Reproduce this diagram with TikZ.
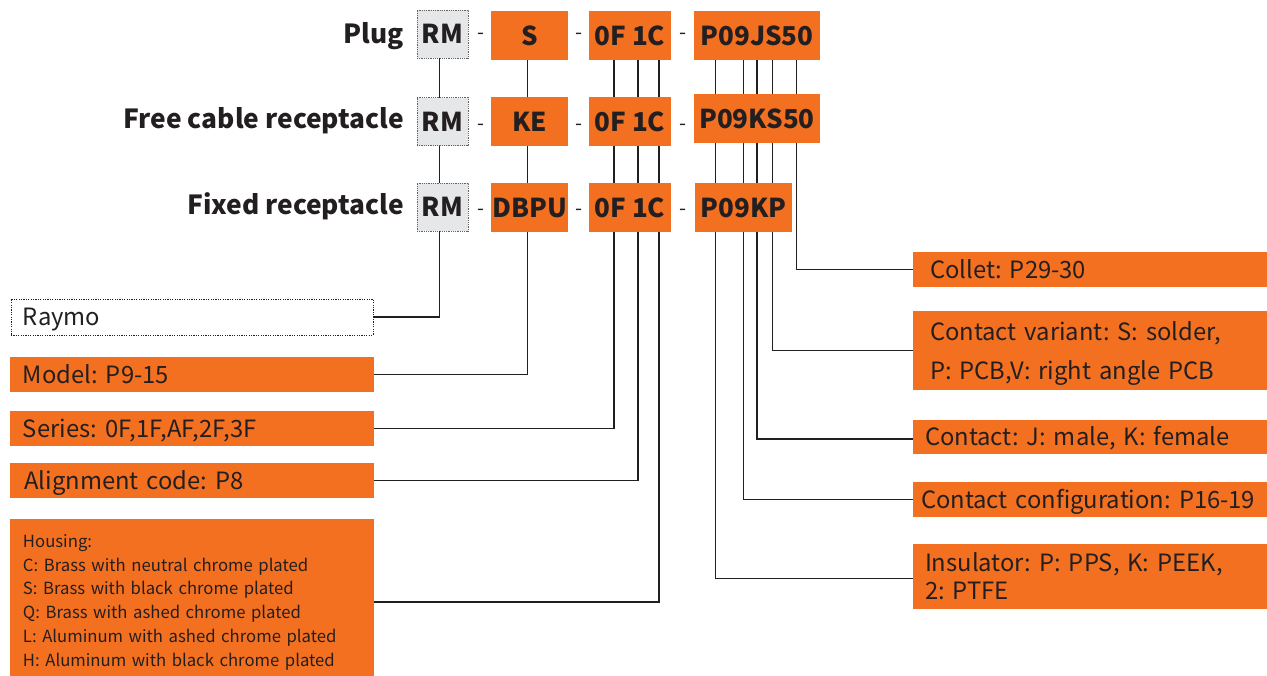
\documentclass[tikz,border=0pt]{standalone}
\usepackage{fontspec}
\setmainfont{Noto Sans CJK SC}
\definecolor{org}{HTML}{F37021}
\definecolor{ink}{HTML}{231F20}
\definecolor{rmgray}{HTML}{E6E7E8}
\frenchspacing
\begin{document}
\begin{tikzpicture}[x=1pt,y=-1pt,
  every node/.style={inner sep=0pt, outer sep=0pt, text=ink},
  code/.style={fill=org, font=\fontsize{26}{30}\selectfont\bfseries, minimum height=49pt},
  rmbox/.style={fill=rmgray, draw=ink!70, densely dotted, line width=0.8pt, font=\fontsize{26}{30}\selectfont\bfseries, minimum width=51pt, minimum height=48pt},
  title/.style={anchor=base east, font=\fontsize{26.3}{30}\selectfont\bfseries},
  sepr/.style={anchor=base, font=\fontsize{20}{24}\selectfont},
  lbl/.style={fill=org, align=left, font=\fontsize{23.8}{28}\selectfont, text height=17.5pt, text depth=0pt},
  mlbl/.style={fill=org, align=left},
  conn/.style={draw=ink, line width=1.3pt},
]
\useasboundingbox (0,0) rectangle (1267,676);

% titles
\node[title] (t1) at (404,43.3) {Plug};
\node[title] (t2) at (404,128.3) {Free cable receptacle};
\node[title] (t3) at (404,214.3) {Fixed receptacle};

% row 1
\node[rmbox] (rm1) at (442.5,34) {RM};
\node[code, minimum width=77pt] (s1) at (529.5,35.5) {S};
\node[code, minimum width=82pt] (c1) at (630,35.5) {0F 1C};
\node[code, minimum width=126pt] (p1) at (757,35.5) {P09JS50};
% row 2
\node[rmbox] (rm2) at (442.5,121.8) {RM};
\node[code, minimum width=77pt] (ke) at (529.5,121.5) {KE};
\node[code, minimum width=82pt] (c2) at (630,121.5) {0F 1C};
\node[code, minimum width=126pt] (p2) at (757,118.5) {P09KS50};
% row 3
\node[rmbox] (rm3) at (442.5,207.3) {RM};
\node[code, minimum width=77pt] (db) at (529.5,207.5) {DBPU};
\node[code, minimum width=82pt] (c3) at (630,207.5) {0F 1C};
\node[code, minimum width=97pt] (p3) at (743.5,207.5) {P09KP};

% separators
\node[sepr] (d11) at (480.5,39.7) {-};
\node[sepr] (d12) at (578.8,39.7) {-};
\node[sepr] (d13) at (683,39.7) {-};
\node[sepr] (d21) at (480.5,130.4) {-};
\node[sepr] (d22) at (578.8,130.4) {-};
\node[sepr] (d23) at (683,130.4) {-};
\node[sepr] (d31) at (480.5,215.4) {-};
\node[sepr] (d32) at (578.8,215.4) {-};
\node[sepr] (d33) at (683,215.4) {-};

% left labels
\node[lbl, fill=white, draw=ink, dash pattern=on 1.2pt off 1.2pt, line width=0.8pt, minimum width=362pt, minimum height=36pt, text width=338pt, inner xsep=12pt] (raymo) at (192,317) {Raymo};
\node[lbl, minimum width=364pt, minimum height=35pt, text width=338pt, inner xsep=13pt] (model) at (192,374.5) {Model: P9-15};
\node[lbl, minimum width=364pt, minimum height=35pt, text width=338pt, inner xsep=13pt] (series) at (192,428.5) {Series: 0F,1F,AF,2F,3F};
\node[lbl, minimum width=364pt, minimum height=35pt, text width=335pt, inner xsep=14.5pt] (align) at (192,480.5) {Alignment code: P8};
\node[mlbl, font=\fontsize{16.7}{23.7}\selectfont, minimum width=364pt, minimum height=157pt, text width=338pt, inner xsep=13pt] (housing) at (192,597.5) {\rule{0pt}{22.5pt}Housing:\\C: Brass with neutral chrome plated\\S: Brass with black chrome plated\\Q: Brass with ashed chrome plated\\L: Aluminum with ashed chrome plated\\H: Aluminum with black chrome plated};

% right labels
\node[lbl, minimum width=354pt, minimum height=35pt, text width=320pt, inner xsep=17pt] (collet) at (1090,269.5) {Collet: P29-30};
\node[mlbl, font=\fontsize{23.8}{38.3}\selectfont, minimum width=354pt, minimum height=79pt, text width=320pt, inner xsep=17pt] (variant) at (1090,350.5) {\rule{0pt}{25pt}Contact variant: S: solder,\\P: PCB,V: right angle PCB};
\node[lbl, minimum width=354pt, minimum height=34pt, text width=330pt, inner xsep=12pt] (contact) at (1090,437) {Contact: J: male, K: female};
\node[lbl, minimum width=354pt, minimum height=35pt, text width=338pt, inner xsep=8pt] (config) at (1090,499.5) {\hbox{Contact configuration: P16-19}};
\node[mlbl, font=\fontsize{23.8}{28.3}\selectfont, minimum width=354pt, minimum height=65pt, text width=330pt, inner xsep=12pt] (insulator) at (1090,576.5) {Insulator: P: PPS, K: PEEK,\\2: PTFE};

% column coordinates
\coordinate (ra) at ([xshift=-3.2pt]rm1.south);
\coordinate (sa) at ([xshift=-2.2pt]s1.south);
\coordinate (ca) at ([xshift=-16pt]c1.south);
\coordinate (cb) at ([xshift=8pt]c1.south);
\coordinate (cc) at ([xshift=29pt]c1.south);
\coordinate (k1) at ([xshift=-41.3pt]p1.south);
\coordinate (k2) at ([xshift=-13.3pt]p1.south);
\coordinate (k3) at (p1.south);
\coordinate (k4) at ([xshift=15.3pt]p1.south);
\coordinate (k5) at ([xshift=39.7pt]p1.south);

% connectors
\draw[conn] (ra) -- (ra |- rm2.north);
\draw[conn] (ra |- rm2.south) -- (ra |- rm3.north);
\draw[conn] (ra |- rm3.south) |- (raymo.east);

\draw[conn] (sa) -- (sa |- ke.north);
\draw[conn] (sa |- ke.south) -- (sa |- db.north);
\draw[conn] (sa |- db.south) |- (model.east);

\foreach \k in {ca,cb,cc}{
  \draw[conn] (\k) -- (\k |- c2.north);
  \draw[conn] (\k |- c2.south) -- (\k |- c3.north);
}
\draw[conn] (ca |- c3.south) |- (series.east);
\draw[conn] (cb |- c3.south) |- (align.east);
\draw[conn] (cc |- c3.south) |- ([yshift=-4.5pt]housing.east);

\foreach \k in {k1,k2,k3,k4,k5}{
  \draw[conn] (\k) -- (\k |- p2.north);
}
\foreach \k in {k1,k2,k3,k4}{
  \draw[conn] (\k |- p2.south) -- (\k |- p3.north);
}
\draw[conn] (k5 |- p2.south) |- (collet.west);
\draw[conn] (k4 |- p3.south) |- (variant.west);
\draw[conn] (k3 |- p3.south) |- ([yshift=-2pt]contact.west);
\draw[conn] (k2 |- p3.south) |- (config.west);
\draw[conn] (k1 |- p3.south) |- ([yshift=-2pt]insulator.west);
\end{tikzpicture}
\end{document}
